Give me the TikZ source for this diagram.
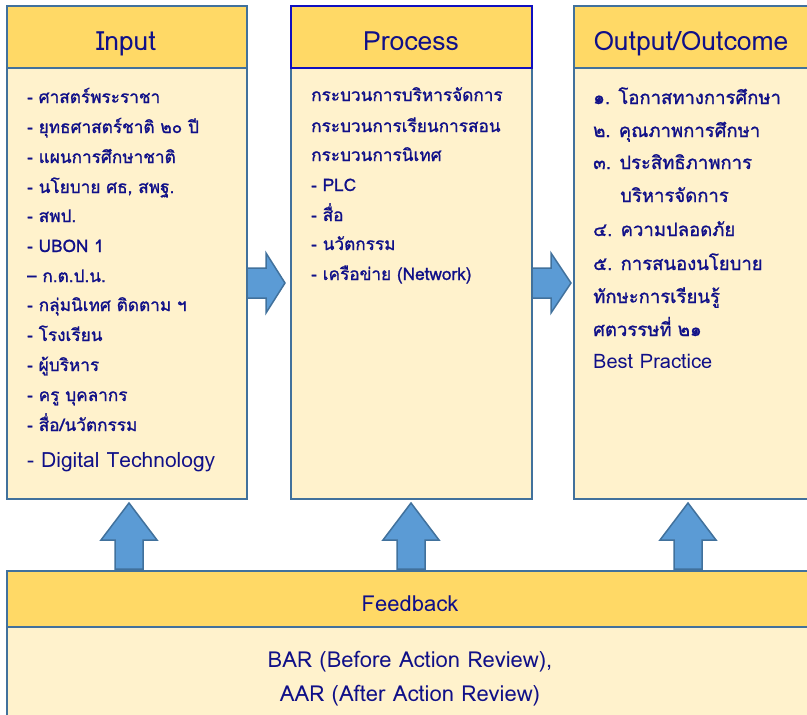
\documentclass[tikz,border=0pt]{standalone}
\usepackage{fontspec}
\setmainfont[Script=Thai]{Loma}
\newfontfamily\thb[Script=Thai,FakeBold=1.2]{Loma}
\definecolor{hdr}{HTML}{FFD966}
\definecolor{bdy}{HTML}{FFF2CC}
\definecolor{edge}{HTML}{41719C}
\definecolor{pedge}{HTML}{1010C0}
\definecolor{txt}{HTML}{101088}
\definecolor{arr}{HTML}{5B9BD5}
\tikzset{
  hdrbox/.style={draw=edge, line width=2pt, fill=hdr, rectangle, inner sep=0pt, anchor=north west},
  bdybox/.style={draw=edge, line width=2pt, fill=bdy, rectangle, inner sep=0pt, anchor=north west},
  htext/.style={text=txt, anchor=base, inner sep=0pt, font=\fontsize{26.5}{30}\selectfont},
  ftext/.style={text=txt, anchor=base, inner sep=0pt, font=\fontsize{22}{26}\selectfont},
  item/.style={text=txt, anchor=base west, inner sep=0pt, font=\thb\fontsize{17.2}{20}\selectfont},
  oitem/.style={item, font=\thb\fontsize{18.5}{21}\selectfont},
  blockarrow/.style={fill=arr, draw=edge, line width=1.5pt, line join=miter}
}
\begin{document}
\begin{tikzpicture}[x=1pt,y=-1pt]
\useasboundingbox (0,0) rectangle (807,715);
\clip (0,0) rectangle (807,715);
% boxes
\node[bdybox, minimum width=240pt, minimum height=431pt] (inb) at (6,67) {};
\node[hdrbox, minimum width=240pt, minimum height=62pt] (inh) at (6,5) {};
\node[bdybox, minimum width=241pt, minimum height=431pt] (prb) at (290,67) {};
\node[hdrbox, draw=pedge, minimum width=241pt, minimum height=62pt] (prh) at (290,5) {};
\node[bdybox, minimum width=245pt, minimum height=431pt] (oub) at (573,67) {};
\node[hdrbox, minimum width=245pt, minimum height=62pt] (ouh) at (573,5) {};
\node[bdybox, minimum width=810pt, minimum height=100pt] (fbb) at (6,626) {};
\node[hdrbox, minimum width=810pt, minimum height=56pt] (fbh) at (6,570) {};
% headers
\node[htext] (tin) at (126,50) {Input};
\node[htext] (tpr) at (411,50) {Process};
\node[htext] (tou) at (691,50) {Output/Outcome};
\node[ftext] (tfb) at (410,611) {Feedback};
\node[ftext] (bar) at (410,667) {BAR (Before Action Review),};
\node[ftext] (aar) at (410,701) {AAR (After Action Review)};
% input items
\node[item] (i1) at (27,103) {- ศาสตร์พระราชา};
\node[item] (i2) at (27,133) {- ยุทธศาสตร์ชาติ ๒๐ ปี};
\node[item] (i3) at (27,163) {- แผนการศึกษาชาติ};
\node[item] (i4) at (27,193) {- นโยบาย ศธ, สพฐ.};
\node[item] (i5) at (27,222) {- สพป.};
\node[item] (i6) at (27,252) {- UBON 1};
\node[item] (i7) at (27,282) {– ก.ต.ป.น.};
\node[item] (i8) at (27,311) {- กลุ่มนิเทศ ติดตาม ฯ};
\node[item] (i9) at (27,341) {- โรงเรียน};
\node[item] (i10) at (27,371) {- ผู้บริหาร};
\node[item] (i11) at (27,401) {- ครู บุคลากร};
\node[item] (i12) at (27,431) {- สื่อ/นวัตกรรม};
\node[item, font=\fontsize{21}{24}\selectfont] (i13) at (27,467) {- Digital Technology};
% process items
\node[item] (p1) at (311,101) {กระบวนการบริหารจัดการ};
\node[item] (p2) at (311,132) {กระบวนการเรียนการสอน};
\node[item] (p3) at (311,161) {กระบวนการนิเทศ};
\node[item] (p4) at (311,191) {- PLC};
\node[item] (p5) at (311,221) {- สื่อ};
\node[item] (p6) at (311,250) {- นวัตกรรม};
\node[item] (p7) at (311,280) {- เครือข่าย (Network)};
% output items
\node[oitem] (o1) at (593,104) {๑. โอกาสทางการศึกษา};
\node[oitem] (o2) at (593,137) {๒. คุณภาพการศึกษา};
\node[oitem] (o3) at (593,169) {๓. ประสิทธิภาพการ};
\node[oitem] (o3b) at (620,202) {บริหารจัดการ};
\node[oitem] (o4) at (593,236) {๔. ความปลอดภัย};
\node[oitem] (o5) at (593,270) {๕. การสนองนโยบาย};
\node[oitem] (o6) at (593,303) {ทักษะการเรียนรู้};
\node[oitem] (o7) at (593,336) {ศตวรรษที่ ๒๑};
\node[oitem, font=\fontsize{20}{23}\selectfont] (o8) at (593,368) {Best Practice};
% right arrows
\draw[blockarrow] (247,268) -- (266,268) -- (266,253) -- (285,283) -- (266,313) -- (266,298) -- (247,298) -- cycle;
\draw[blockarrow] (532,268) -- (551,268) -- (551,253) -- (571,283) -- (551,313) -- (551,298) -- (532,298) -- cycle;
% up arrows
\foreach \cx/\nm in {129/ua, 411/ub, 688/uc}{
  \draw[blockarrow] (\cx-14,569) -- (\cx-14,540) -- (\cx-28,540) -- (\cx,503) -- (\cx+28,540) -- (\cx+14,540) -- (\cx+14,569) -- cycle;
}
\end{tikzpicture}
\end{document}
